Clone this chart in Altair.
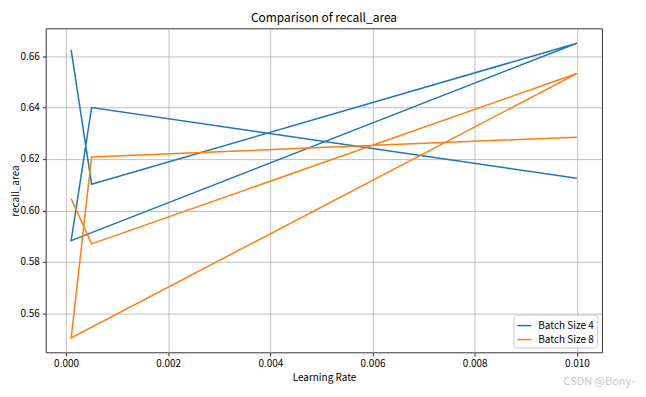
import altair as alt
import pandas as pd

learning_rates = [0.0001, 0.0005, 0.01, 0.0001, 0.0005, 0.01]
batch4_recall = [0.6624, 0.6102, 0.665, 0.5883, 0.640, 0.6125]
batch8_recall = [0.6046, 0.587, 0.6532, 0.5505, 0.6208, 0.6285]
series_names = ["Batch Size 4", "Batch Size 8"]
colors = ["#1f77b4", "#ff7f0e"]
x_ticks = [0.0, 0.002, 0.004, 0.006, 0.008, 0.010]
y_ticks = [0.56, 0.58, 0.60, 0.62, 0.64, 0.66]

rows = []
for name, vals in zip(series_names, [batch4_recall, batch8_recall]):
    for i, (lr, v) in enumerate(zip(learning_rates, vals)):
        rows.append({"series": name, "order": i, "lr": lr, "recall": v})
df = pd.DataFrame(rows)

FONT = "Noto Sans CJK SC"

lines = alt.Chart(df).mark_line(strokeWidth=1.5).encode(
    x=alt.X("lr:Q", title="Learning Rate",
            scale=alt.Scale(domain=[-0.000395, 0.010495], nice=False, zero=False),
            axis=alt.Axis(values=x_ticks, format=".3f")),
    y=alt.Y("recall:Q", title="recall_area",
            scale=alt.Scale(domain=[0.5448, 0.6707], nice=False, zero=False),
            axis=alt.Axis(values=y_ticks, format=".2f", titleX=-30, titleY=162.5,
                          titleAngle=270, titleAlign="center", titleBaseline="middle")),
    color=alt.Color("series:N", title=None,
                    scale=alt.Scale(domain=series_names, range=colors),
                    legend=alt.Legend(orient="bottom-right", symbolType="stroke",
                                      symbolStrokeWidth=1.5, symbolSize=200,
                                      fillColor="white", strokeColor="#cccccc",
                                      padding=3, cornerRadius=3, offset=5,
                                      labelFontSize=10, labelFont=FONT,
                                      rowPadding=1, labelColor="black",
                                      labelOffset=6)),
    order="order:Q",
)

watermark = alt.Chart(pd.DataFrame({"t": ["CSDN @Bony-"]})).mark_text(
    align="right", baseline="middle", fontSize=11, color="#c8c8c8", font=FONT
).encode(text="t:N", x=alt.value(591), y=alt.value(355))

chart = alt.layer(lines, watermark).properties(
    width=558, height=325,
    title=alt.TitleParams("Comparison of recall_area", fontSize=12, fontWeight="normal",
                          font=FONT, anchor="middle", offset=4, color="black"),
    autosize=alt.AutoSizeParams(type="none"),
    padding={"left": 38, "top": 20, "right": 36, "bottom": 36},
).configure_view(stroke="black", strokeWidth=0.8).configure_axis(
    grid=True, gridColor="#b0b0b0", gridWidth=0.8, domain=False,
    tickColor="black", tickSize=3.5, tickWidth=0.8,
    labelFont=FONT, labelFontSize=10, labelColor="black",
    titleFont=FONT, titleFontSize=10, titleFontWeight="normal", titleColor="black",
    labelPadding=3,
).configure_axisX(titlePadding=4)

chart.save("out.html", embed_options={"renderer": "svg", "actions": False})
